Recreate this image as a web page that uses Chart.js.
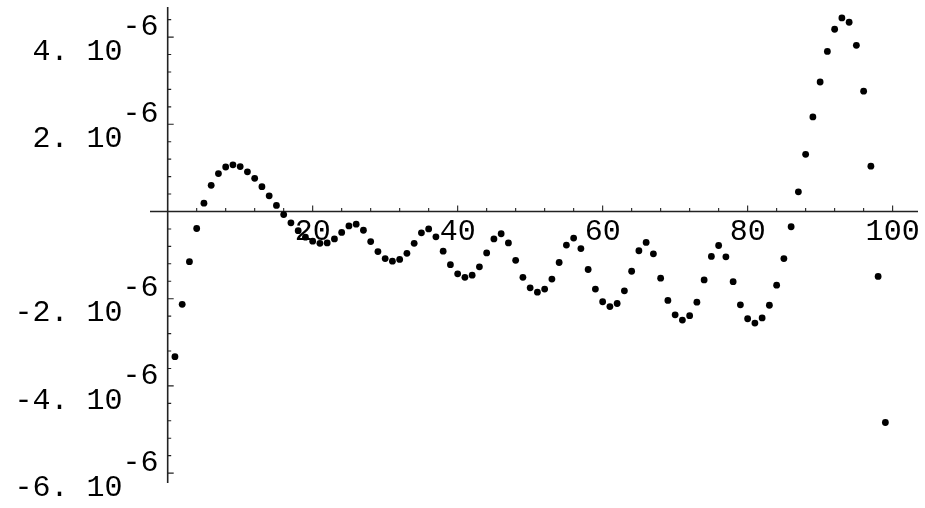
<!DOCTYPE html>
<html>
<head>
<meta charset="utf-8">
<script src="https://cdn.jsdelivr.net/npm/chart.js@4/dist/chart.umd.min.js"></script>
<style>
  html, body { margin: 0; padding: 0; background: #ffffff; }
  #wrap { width: 925px; height: 508px; }
</style>
</head>
<body>
<div id="wrap"><canvas id="c" width="925" height="508"></canvas></div>
<script>
// ---- data ----
const xValues = [
  1, 2, 3, 4, 5, 6, 7, 8, 9, 10,
  11, 12, 13, 14, 15, 16, 17, 18, 19, 20,
  21, 22, 23, 24, 25, 26, 27, 28, 29, 30,
  31, 32, 33, 34, 35, 36, 37, 38, 39, 40,
  41, 42, 43, 44, 45, 46, 47, 48, 49, 50,
  51, 52, 53, 54, 55, 56, 57, 58, 59, 60,
  61, 62, 63, 64, 65, 66, 67, 68, 69, 70,
  71, 72, 73, 74, 75, 76, 77, 78, 79, 80,
  81, 82, 83, 84, 85, 86, 87, 88, 89, 90,
  91, 92, 93, 94, 95, 96, 97, 98, 99
];
const yValues = [
  -3.33e-6, -2.13e-6, -1.15e-6, -0.39e-6, 0.19e-6, 0.60e-6, 0.87e-6, 1.02e-6, 1.07e-6, 1.03e-6,
  0.91e-6, 0.76e-6, 0.57e-6, 0.36e-6, 0.14e-6, -0.07e-6, -0.26e-6, -0.44e-6, -0.59e-6, -0.68e-6,
  -0.73e-6, -0.72e-6, -0.63e-6, -0.48e-6, -0.33e-6, -0.29e-6, -0.43e-6, -0.69e-6, -0.92e-6, -1.08e-6,
  -1.14e-6, -1.10e-6, -0.96e-6, -0.73e-6, -0.49e-6, -0.40e-6, -0.58e-6, -0.91e-6, -1.22e-6, -1.43e-6,
  -1.51e-6, -1.46e-6, -1.27e-6, -0.95e-6, -0.63e-6, -0.51e-6, -0.72e-6, -1.12e-6, -1.51e-6, -1.75e-6,
  -1.85e-6, -1.78e-6, -1.55e-6, -1.17e-6, -0.77e-6, -0.61e-6, -0.85e-6, -1.33e-6, -1.78e-6, -2.07e-6,
  -2.18e-6, -2.11e-6, -1.82e-6, -1.37e-6, -0.90e-6, -0.71e-6, -0.97e-6, -1.53e-6, -2.04e-6, -2.37e-6,
  -2.49e-6, -2.39e-6, -2.08e-6, -1.57e-6, -1.03e-6, -0.78e-6, -1.04e-6, -1.61e-6, -2.14e-6, -2.46e-6,
  -2.56e-6, -2.44e-6, -2.15e-6, -1.69e-6, -1.08e-6, -0.35e-6, 0.45e-6, 1.31e-6, 2.17e-6, 2.97e-6,
  3.67e-6, 4.18e-6, 4.44e-6, 4.34e-6, 3.81e-6, 2.76e-6, 1.04e-6, -1.49e-6, -4.84e-6
];

// ---- axis ticks ----
const xTickValues = [20, 40, 60, 80, 100];
const xTickLabels = ["20", "40", "60", "80", "100"];
const xMinorTicks = [4, 8, 12, 16, 24, 28, 32, 36, 44, 48, 52, 56, 64, 68, 72, 76, 84, 88, 92, 96];
const yTickValues = [4e-6, 2e-6, -2e-6, -4e-6, -6e-6];
const yTickLabels = ["4. 10", "2. 10", "-2. 10", "-4. 10", "-6. 10"];
const yTickExponents = ["-6", "-6", "-6", "-6", "-6"];
const yMinorTicks = [4.4e-6, 3.6e-6, 3.2e-6, 2.8e-6, 2.4e-6, 1.6e-6, 1.2e-6, 0.8e-6, 0.4e-6,
  -0.4e-6, -0.8e-6, -1.2e-6, -1.6e-6, -2.4e-6, -2.8e-6, -3.2e-6, -3.6e-6,
  -4.4e-6, -4.8e-6, -5.2e-6, -5.6e-6];

const X_MIN = -2.44, X_MAX = 103.5;
const Y_MIN = -6.227e-6, Y_MAX = 4.69e-6;

const points = xValues.map((xv, i) => ({ x: xv, y: yValues[i] }));

const LABEL_FONT = '30px "Liberation Mono", monospace';

const axesPlugin = {
  id: 'crossAxes',
  beforeDatasetsDraw(chart) {
    const { ctx, chartArea } = chart;
    const xs = chart.scales.x, ys = chart.scales.y;
    const x0 = xs.getPixelForValue(0);
    const y0 = ys.getPixelForValue(0);
    ctx.save();
    ctx.strokeStyle = '#222';
    ctx.lineWidth = 1.6;
    ctx.beginPath();
    ctx.moveTo(chartArea.left, y0); ctx.lineTo(chartArea.right, y0);
    ctx.stroke();
    ctx.beginPath();
    ctx.moveTo(x0, chartArea.top); ctx.lineTo(x0, chartArea.bottom);
    ctx.stroke();

    ctx.lineWidth = 1.1;
    ctx.beginPath();
    xTickValues.forEach(v => { const p = xs.getPixelForValue(v); ctx.moveTo(p, y0); ctx.lineTo(p, y0 - 6); });
    xMinorTicks.forEach(v => { const p = xs.getPixelForValue(v); ctx.moveTo(p, y0); ctx.lineTo(p, y0 - 3.5); });
    yTickValues.forEach(v => { const p = ys.getPixelForValue(v); ctx.moveTo(x0, p); ctx.lineTo(x0 + 6, p); });
    yMinorTicks.forEach(v => { const p = ys.getPixelForValue(v); ctx.moveTo(x0, p); ctx.lineTo(x0 + 3.5, p); });
    ctx.stroke();

    ctx.fillStyle = '#000';
    ctx.font = LABEL_FONT;
    ctx.textBaseline = 'alphabetic';
    ctx.textAlign = 'center';
    xTickValues.forEach((v, i) => {
      ctx.fillText(xTickLabels[i], xs.getPixelForValue(v), y0 + 28.5);
    });
    yTickValues.forEach((v, i) => {
      const p = ys.getPixelForValue(v);
      const xr = x0 - 45.2;
      ctx.textAlign = 'right';
      ctx.fillText(yTickLabels[i], xr, p + 22.7);
      ctx.textAlign = 'left';
      ctx.fillText(yTickExponents[i], xr, p - 2.3);
    });
    ctx.restore();
  }
};

new Chart(document.getElementById('c'), {
  type: 'scatter',
  data: {
    datasets: [{
      data: points,
      backgroundColor: '#000',
      borderColor: '#000',
      borderWidth: 0,
      pointRadius: 3.4,
      pointHoverRadius: 3.4,
      clip: false
    }]
  },
  options: {
    responsive: false,
    animation: false,
    devicePixelRatio: 1,
    layout: { padding: { left: 150, right: 7, top: 7, bottom: 25 } },
    plugins: { legend: { display: false }, tooltip: { enabled: false } },
    scales: {
      x: { type: 'linear', min: X_MIN, max: X_MAX, display: false },
      y: { type: 'linear', min: Y_MIN, max: Y_MAX, display: false }
    }
  },
  plugins: [axesPlugin]
});
</script>
</body>
</html>
